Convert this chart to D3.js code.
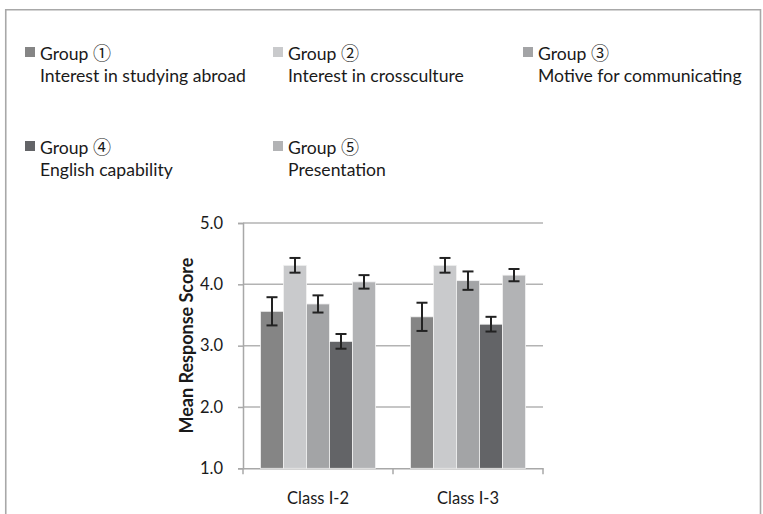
<!DOCTYPE html>
<html>
<head>
<meta charset="utf-8">
<script src="https://cdn.jsdelivr.net/npm/d3@7"></script>
<style>
  body { margin: 0; background: #fff; }
  text { font-family: Lato, "Open Sans", sans-serif; fill: #1a1a1a; }
</style>
</head>
<body>
<div id="chart"></div>
<script>
// categories and series
const classes = ["Class I-2", "Class I-3"];
const groups = ["g1", "g2", "g3", "g4", "g5"];
const groupNums = ["\u2460", "\u2461", "\u2462", "\u2463", "\u2464"];
const groupNames = ["Interest in studying abroad", "Interest in crossculture", "Motive for communicating", "English capability", "Presentation"];
const meanI2 = [3.56, 4.31, 3.68, 3.07, 4.04];
const meanI3 = [3.47, 4.31, 4.06, 3.35, 4.15];
const errI2 = [0.23, 0.12, 0.14, 0.12, 0.11];
const errI3 = [0.23, 0.12, 0.15, 0.12, 0.10];
const yTicks = [1, 2, 3, 4, 5];
const colors = ["#858585", "#c9cacc", "#a3a4a6", "#636467", "#b2b3b5"];

const rows = [];
classes.forEach((c, ci) => {
  const m = ci === 0 ? meanI2 : meanI3;
  const e = ci === 0 ? errI2 : errI3;
  groups.forEach((g, gi) => rows.push({cls: c, group: g, gi: gi, mean: m[gi], err: e[gi]}));
});

const W = 763, H = 514;
const svg = d3.select("#chart").append("svg").attr("width", W).attr("height", H);

// outer frame (open at bottom)
svg.append("path")
  .attr("d", `M5.75,${H + 5}V9.75H760.5V${H + 5}`)
  .attr("fill", "none").attr("stroke", "#a8a8a8").attr("stroke-width", 1.6);

// legend
const legCols = [25, 273, 523];
const legRows = [47, 141];
const leg = svg.selectAll("g.leg").data(groups).enter().append("g")
  .attr("transform", (d, i) => `translate(${legCols[i % 3]},${legRows[Math.floor(i / 3)]})`);
leg.append("rect").attr("width", 10).attr("height", 10).attr("fill", (d, i) => colors[i]);
const title = leg.append("text").attr("x", 15).attr("y", 12.5).attr("font-size", 17.6);
title.append("tspan").text("Group ");
title.append("tspan").attr("font-family", "'Noto Sans CJK JP', sans-serif").attr("font-size", 18)
  .text((d, i) => groupNums[i]);
leg.append("text").attr("x", 15).attr("y", 34.5).attr("font-size", 17.6).text((d, i) => groupNames[i]);

// scales
const x = d3.scaleBand().domain(classes).range([243, 543]);
const xg = d3.scaleBand().domain(groups).range([0, x.bandwidth()]).paddingOuter(0.76);
const y = d3.scaleLinear().domain([1, 5]).range([468.3, 223]);

// gridlines
svg.append("g").selectAll("line").data(yTicks.slice(1)).enter().append("line")
  .attr("x1", 243).attr("x2", 543)
  .attr("y1", d => y(d)).attr("y2", d => y(d))
  .attr("stroke", "#b3b3b3").attr("stroke-width", 1.5);

// y axis
const yAxis = svg.append("g").attr("transform", "translate(243,0)")
  .call(d3.axisLeft(y).tickValues(yTicks).tickFormat(d3.format(".1f")).tickSize(5).tickPadding(15));
yAxis.select(".domain").attr("stroke", "#a8a8a8").attr("stroke-width", 1.5);
yAxis.selectAll(".tick line").attr("stroke", "#a8a8a8").attr("stroke-width", 1.5);
yAxis.selectAll(".tick text").attr("font-size", 16.5).attr("font-family", "Lato, sans-serif").attr("fill", "#1a1a1a");

// x axis
const xAxis = svg.append("g").attr("transform", `translate(0,${y(1)})`)
  .call(d3.axisBottom(x).tickSize(0).tickPadding(24));
xAxis.select(".domain").attr("stroke", "#a8a8a8").attr("stroke-width", 1.5);
xAxis.selectAll(".tick text").attr("font-size", 16.5).attr("font-family", "Lato, sans-serif").attr("fill", "#1a1a1a");
xAxis.selectAll("line.sep").data([243, 393, 543]).enter().append("line").attr("class", "sep")
  .attr("x1", d => d).attr("x2", d => d).attr("y1", 0).attr("y2", 6)
  .attr("stroke", "#a8a8a8").attr("stroke-width", 1.5);

// y title
svg.append("text")
  .attr("transform", `translate(193,${(y(1) + y(5)) / 2}) rotate(-90)`)
  .attr("text-anchor", "middle").attr("font-size", 18).attr("font-weight", "bold")
  .text("Mean Response Score");

// bars
svg.append("g").selectAll("rect").data(rows).enter().append("rect")
  .attr("x", d => x(d.cls) + xg(d.group))
  .attr("width", xg.bandwidth())
  .attr("y", d => y(d.mean))
  .attr("height", d => y(1) - y(d.mean))
  .attr("fill", d => colors[d.gi])
  .attr("stroke", "#f2f2f2").attr("stroke-width", 0.8);

// error bars
const eb = svg.append("g").selectAll("g").data(rows).enter().append("g")
  .attr("transform", d => `translate(${x(d.cls) + xg(d.group) + xg.bandwidth() / 2},0)`)
  .attr("stroke", "#222").attr("stroke-width", 2);
eb.append("line").attr("y1", d => y(d.mean + d.err)).attr("y2", d => y(d.mean - d.err));
eb.append("line").attr("x1", -5.5).attr("x2", 5.5).attr("y1", d => y(d.mean + d.err)).attr("y2", d => y(d.mean + d.err));
eb.append("line").attr("x1", -5.5).attr("x2", 5.5).attr("y1", d => y(d.mean - d.err)).attr("y2", d => y(d.mean - d.err));
</script>
</body>
</html>
